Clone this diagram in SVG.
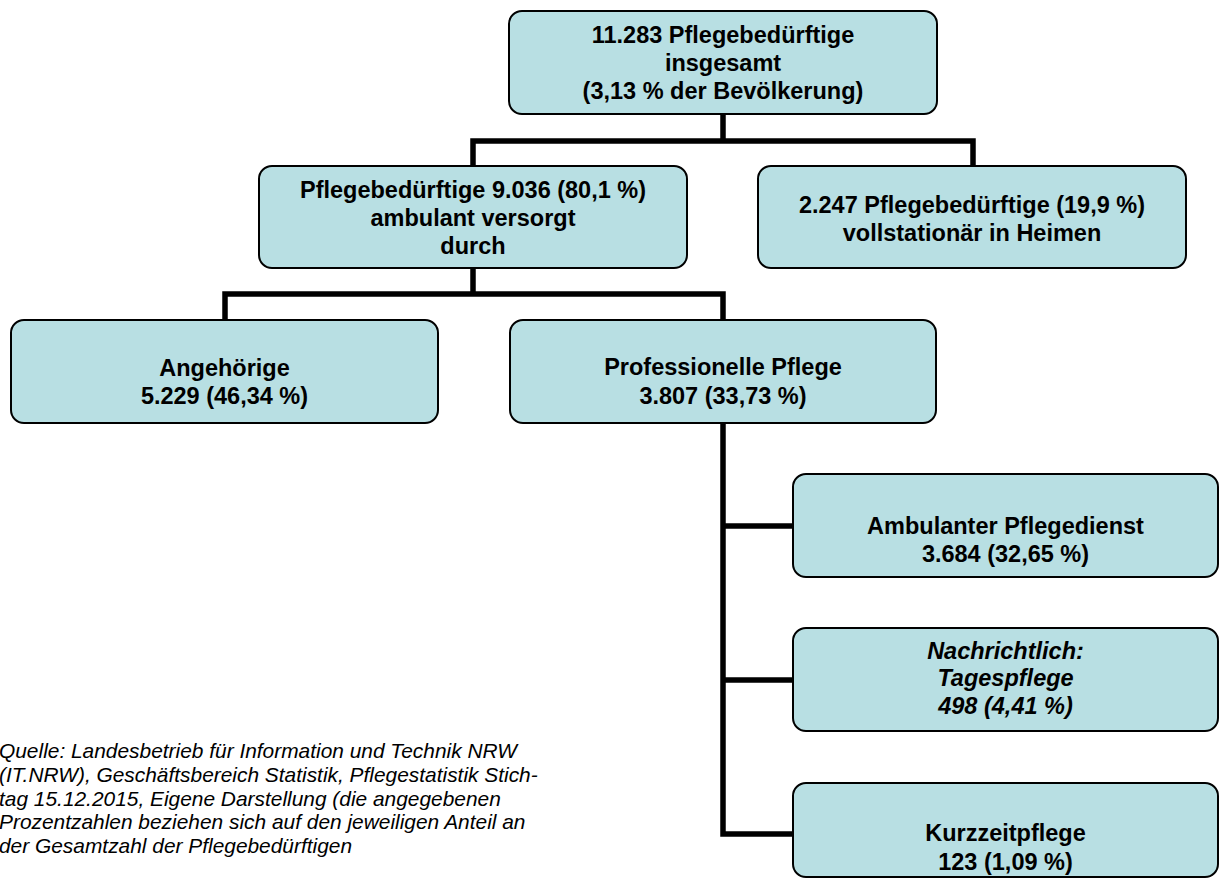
<svg xmlns="http://www.w3.org/2000/svg" width="1219" height="880" viewBox="0 0 1219 880">
<style>
.box{fill:#b8dfe3;stroke:#000;stroke-width:2}
.t{font-family:"Liberation Sans",Arial,sans-serif;font-size:23.5px;font-weight:bold;text-anchor:middle;fill:#000}
.it{font-style:italic}
.src{font-family:"Liberation Sans",Arial,sans-serif;font-size:20.9px;font-style:italic;fill:#000}
.c{fill:none;stroke:#000;stroke-width:5.5;stroke-linecap:butt;stroke-linejoin:miter}
</style>
<rect width="1219" height="880" fill="#fff"/>
<g id="connectors">
<path class="c" d="M723,114 V141 M470.25,141 H975.75 M473,141 V166 M973,141 V166"/>
<path class="c" d="M473,268 V294 M222.25,294 H725.75 M225,294 V320 M723,294 V320"/>
<path class="c" d="M723,423 V836.75 M723,526 H793 M723,680 H793 M720.25,834 H793"/>
</g>
<g id="n-total">
<rect class="box" x="509" y="11" width="428" height="103" rx="13"/>
<text class="t" x="723" y="43">11.283 Pflegebedürftige</text>
<text class="t" x="723" y="71">insgesamt</text>
<text class="t" x="723" y="99">(3,13 % der Bevölkerung)</text>
</g>
<g id="n-ambulant">
<rect class="box" x="259" y="166" width="428" height="102" rx="13"/>
<text class="t" x="473" y="198">Pflegebedürftige 9.036 (80,1 %)</text>
<text class="t" x="473" y="226">ambulant versorgt</text>
<text class="t" x="473" y="254">durch</text>
</g>
<g id="n-stationaer">
<rect class="box" x="758" y="166" width="428" height="102" rx="13"/>
<text class="t" x="972" y="213">2.247 Pflegebedürftige (19,9 %)</text>
<text class="t" x="972" y="241">vollstationär in Heimen</text>
</g>
<g id="n-angehoerige">
<rect class="box" x="11" y="320" width="427" height="103" rx="13"/>
<text class="t" x="224.5" y="376">Angehörige</text>
<text class="t" x="224.5" y="404">5.229 (46,34 %)</text>
</g>
<g id="n-professionell">
<rect class="box" x="510" y="320" width="426" height="103" rx="13"/>
<text class="t" x="723" y="375">Professionelle Pflege</text>
<text class="t" x="723" y="404">3.807 (33,73 %)</text>
</g>
<g id="n-pflegedienst">
<rect class="box" x="793" y="474" width="425" height="103" rx="13"/>
<text class="t" x="1005.5" y="534">Ambulanter Pflegedienst</text>
<text class="t" x="1005.5" y="562">3.684 (32,65 %)</text>
</g>
<g id="n-tagespflege">
<rect class="box" x="793" y="628" width="425" height="103" rx="13"/>
<text class="t it" x="1005.5" y="659">Nachrichtlich:</text>
<text class="t it" x="1005.5" y="686">Tagespflege</text>
<text class="t it" x="1005.5" y="714">498 (4,41 %)</text>
</g>
<g id="n-kurzzeitpflege">
<rect class="box" x="793" y="783" width="425" height="94" rx="13"/>
<text class="t" x="1005.5" y="841">Kurzzeitpflege</text>
<text class="t" x="1005.5" y="870">123 (1,09 %)</text>
</g>
<g id="source">
<text class="src" x="-1" y="758">Quelle: Landesbetrieb für Information und Technik NRW</text>
<text class="src" x="-1" y="782">(IT.NRW), Geschäftsbereich Statistik, Pflegestatistik Stich-</text>
<text class="src" x="-1" y="805.5">tag 15.12.2015, Eigene Darstellung (die angegebenen</text>
<text class="src" x="-1" y="829">Prozentzahlen beziehen sich auf den jeweiligen Anteil an</text>
<text class="src" x="-1" y="853">der Gesamtzahl der Pflegebedürftigen</text>
</g>
</svg>
